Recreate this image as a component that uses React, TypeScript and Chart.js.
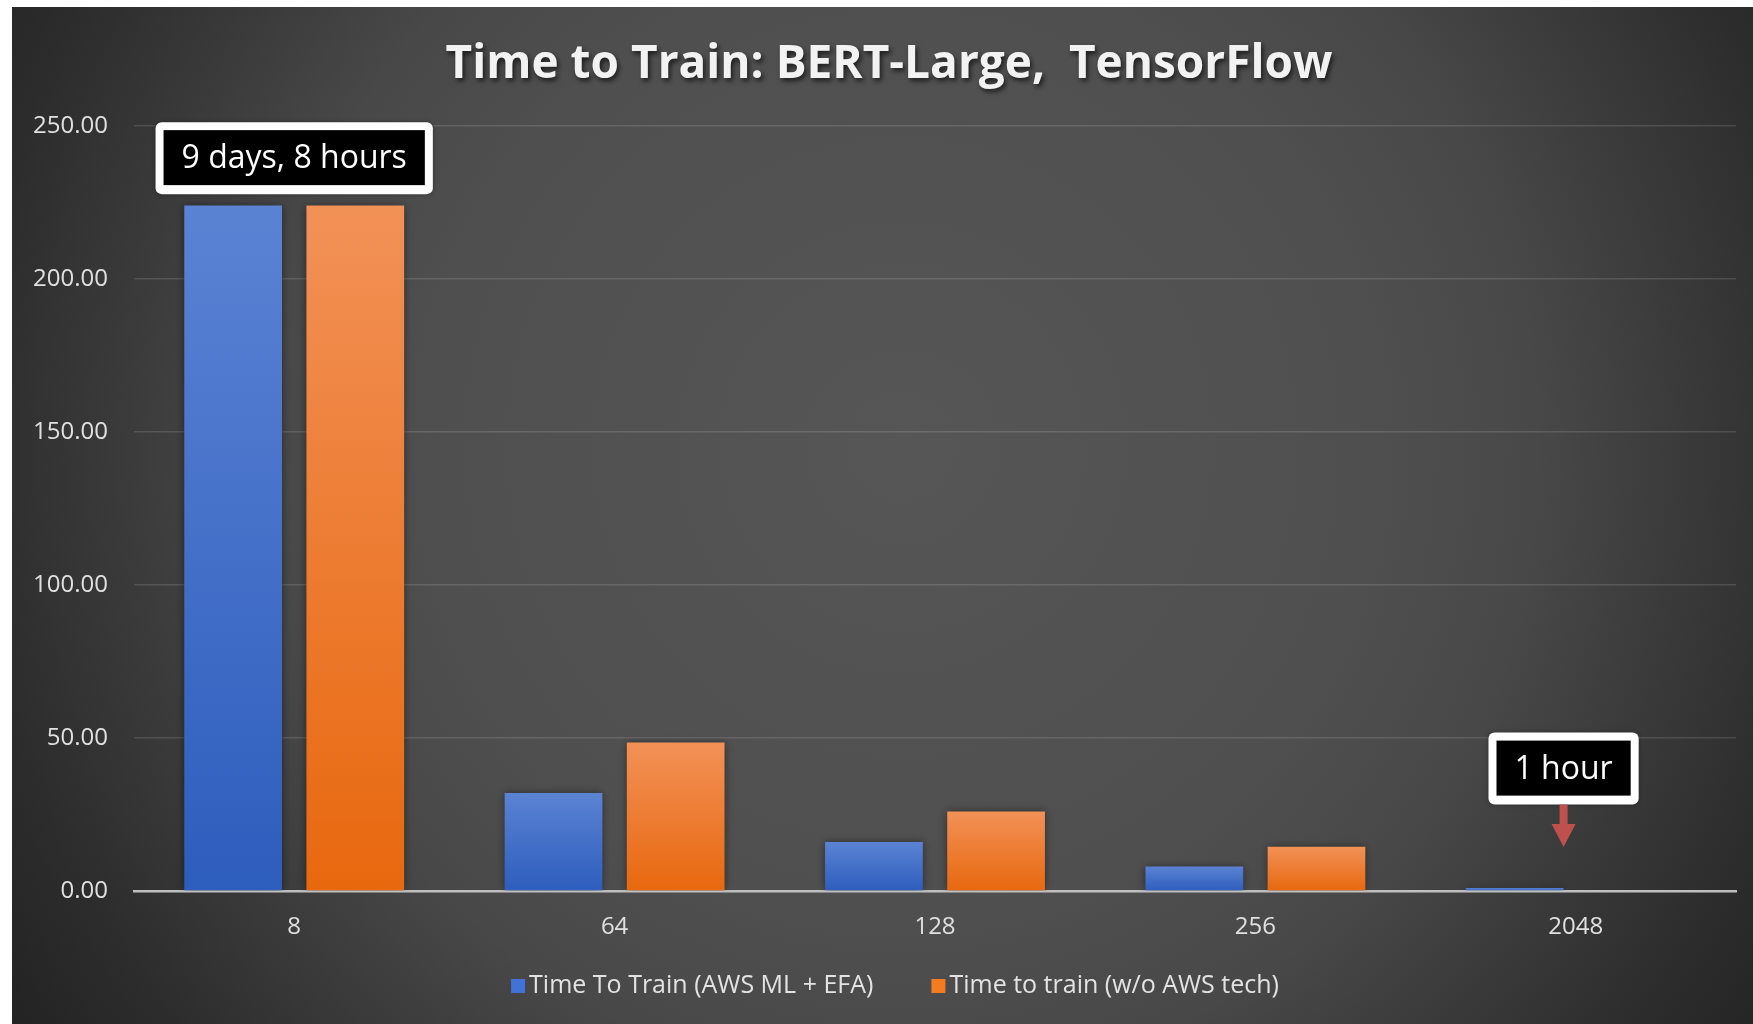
import React, { useEffect, useRef } from "react";
import { Chart, registerables } from "chart.js";

Chart.register(...registerables);

// ---- data ----
const categories = ["8", "64", "128", "256", "2048"];
const awsEfaHours = [224, 32, 16, 8, 1];
const withoutAwsHours: (number | null)[] = [224, 48.5, 26, 14.5, null];
const yTickValues = [0, 50, 100, 150, 200, 250];
const seriesLabels = ["Time To Train (AWS ML + EFA)", "Time to train (w/o AWS tech)"];
const titleText = "Time to Train: BERT-Large,  TensorFlow";

// callouts
const calloutTexts = ["9 days, 8 hours", "1 hour"];
const calloutCategoryIndex = [0, 4];
const calloutAnchor = ["category", "barRightEdge"];
const calloutCenterValue = [239.5, 40];
const calloutArrowTipValue: (number | null)[] = [null, 14.4];

const FONT = "'Open Sans', 'DejaVu Sans', sans-serif";
const CANVAS_W = 1741;
const CANVAS_H = 1017;

const seriesColors = [
  { top: "#5b83d4", bottom: "#2d5dbd", legend: "#4072d8" },
  { top: "#f29157", bottom: "#e8680e", legend: "#f47b20" },
];

function barGradient(seriesIdx: number) {
  return (ctx: any) => {
    const chart = ctx.chart;
    const c = seriesColors[seriesIdx];
    if (!chart.chartArea || ctx.type !== "data" || ctx.raw == null) return c.legend;
    const y = chart.scales.y;
    const top = y.getPixelForValue(ctx.raw);
    const base = y.getPixelForValue(0);
    if (base - top < 2) return c.bottom;
    const g = chart.ctx.createLinearGradient(0, top, 0, base);
    g.addColorStop(0, c.top);
    g.addColorStop(1, c.bottom);
    return g;
  };
}

const backgroundPlugin = {
  id: "panelBackground",
  beforeDraw(chart: any) {
    const { ctx, width, height } = chart;
    ctx.save();
    const g = ctx.createRadialGradient(890, 440, 0, 890, 440, 1060);
    g.addColorStop(0, "#565656");
    g.addColorStop(0.45, "#4f4f4f");
    g.addColorStop(0.6, "#484848");
    g.addColorStop(0.78, "#363636");
    g.addColorStop(0.87, "#2d2d2d");
    g.addColorStop(1, "#232323");
    ctx.fillStyle = g;
    ctx.fillRect(0, 0, width, height);

    // title with shadow
    ctx.font = `bold 46px ${FONT}`;
    ctx.textAlign = "center";
    ctx.textBaseline = "middle";
    ctx.shadowColor = "rgba(0,0,0,0.65)";
    ctx.shadowBlur = 5;
    ctx.shadowOffsetX = 2;
    ctx.shadowOffsetY = 3;
    ctx.fillStyle = "#f2f2f2";
    ctx.fillText(titleText, 877, 58);
    ctx.restore();
  },
  beforeDatasetsDraw(chart: any) {
    const ctx = chart.ctx;
    ctx.save();
    ctx.shadowColor = "rgba(0,0,0,0.45)";
    ctx.shadowBlur = 8;
    ctx.shadowOffsetX = 0;
    ctx.shadowOffsetY = 0;
  },
  afterDatasetsDraw(chart: any) {
    chart.ctx.restore();
  },
};

const calloutPlugin = {
  id: "callouts",
  afterDraw(chart: any) {
    const { ctx } = chart;
    const xScale = chart.scales.x;
    const yScale = chart.scales.y;
    const meta = chart.getDatasetMeta(0);
    ctx.save();
    ctx.font = `32px ${FONT}`;
    calloutTexts.forEach((text, i) => {
      const idx = calloutCategoryIndex[i];
      let cx = xScale.getPixelForValue(idx);
      if (calloutAnchor[i] === "barRightEdge") {
        const el = meta.data[idx];
        cx = el.x + el.width / 2;
      }
      const cy = yScale.getPixelForValue(calloutCenterValue[i]);
      const tw = ctx.measureText(text).width;
      const border = 8;
      const w = tw + 2 * (border + 18);
      const h = 72;
      const x0 = cx - w / 2;
      const y0 = cy - h / 2;
      ctx.shadowColor = "rgba(0,0,0,0.35)";
      ctx.shadowBlur = 4;
      ctx.fillStyle = "#ffffff";
      ctx.beginPath();
      ctx.roundRect(x0, y0, w, h, 6);
      ctx.fill();
      ctx.shadowColor = "transparent";
      ctx.shadowBlur = 0;
      ctx.fillStyle = "#000000";
      ctx.fillRect(x0 + border, y0 + border, w - 2 * border, h - 2 * border - 1);
      ctx.fillStyle = "#ffffff";
      ctx.textAlign = "center";
      ctx.textBaseline = "middle";
      ctx.fillText(text, cx, cy + 1);
      const tipV = calloutArrowTipValue[i];
      if (tipV != null) {
        const tipY = yScale.getPixelForValue(tipV);
        const startY = y0 + h;
        const headLen = 23;
        const shaft = 8;
        const head = 24;
        ctx.fillStyle = "#c0504d";
        ctx.fillRect(cx - shaft / 2, startY, shaft, tipY - headLen - startY + 1);
        ctx.beginPath();
        ctx.moveTo(cx - head / 2, tipY - headLen);
        ctx.lineTo(cx + head / 2, tipY - headLen);
        ctx.lineTo(cx, tipY);
        ctx.closePath();
        ctx.fill();
      }
    });
    ctx.restore();

    // legend
    ctx.save();
    ctx.font = `25px ${FONT}`;
    ctx.textBaseline = "middle";
    ctx.textAlign = "left";
    const box = 14;
    const gap = 4;
    const itemGap = 58;
    const widths = chart.data.datasets.map((d: any) => box + gap + ctx.measureText(d.label).width);
    const total = widths.reduce((a: number, b: number) => a + b, 0) + itemGap * (widths.length - 1);
    let x = 883 - total / 2;
    const ly = 979;
    chart.data.datasets.forEach((d: any, i: number) => {
      ctx.fillStyle = seriesColors[i].legend;
      ctx.fillRect(x, ly - box / 2, box, box);
      ctx.fillStyle = "#e3e3e3";
      ctx.fillText(d.label, x + box + gap, ly);
      x += widths[i] + itemGap;
    });
    ctx.restore();
  },
};

export default function App() {
  const canvasRef = useRef<HTMLCanvasElement | null>(null);

  useEffect(() => {
    document.body.style.margin = "0";
    const canvas = canvasRef.current;
    if (!canvas) return;
    const chart = new Chart(canvas, {
      type: "bar",
      data: {
        labels: categories,
        datasets: [
          {
            label: seriesLabels[0],
            data: awsEfaHours,
            backgroundColor: barGradient(0),
            borderWidth: 0,
            categoryPercentage: 0.7625,
            barPercentage: 0.8,
          },
          {
            label: seriesLabels[1],
            data: withoutAwsHours,
            backgroundColor: barGradient(1),
            borderWidth: 0,
            categoryPercentage: 0.7625,
            barPercentage: 0.8,
          },
        ],
      },
      options: {
        responsive: false,
        animation: false,
        devicePixelRatio: 1,
        layout: { padding: { top: 119, left: 0, right: 17, bottom: 73 } },
        plugins: {
          legend: { display: false },
          title: { display: false },
          tooltip: { enabled: false },
        },
        scales: {
          x: {
            z: 1,
            grid: { display: false, drawTicks: false },
            border: { display: true, color: "#bfbfbf", width: 2.5 },
            ticks: {
              color: "#e0e0e0",
              font: { family: FONT, size: 24 },
              padding: 22,
            },
            afterFit: (s: any) => {
              s.height = 60;
            },
          },
          y: {
            min: 0,
            max: 250,
            afterBuildTicks: (s: any) => {
              s.ticks = yTickValues.map((v) => ({ value: v }));
            },
            border: { display: false },
            grid: {
              drawTicks: false,
              color: (c: any) => (c.tick && c.tick.value === 0 ? "rgba(0,0,0,0)" : "rgba(255,255,255,0.13)"),
              lineWidth: 1.5,
            },
            ticks: {
              color: "#e0e0e0",
              font: { family: FONT, size: 24 },
              padding: 26,
              callback: (v: any) => Number(v).toFixed(2),
            },
            afterFit: (s: any) => {
              s.width = 122;
            },
          },
        },
      },
      plugins: [backgroundPlugin, calloutPlugin],
    });
    return () => chart.destroy();
  }, []);

  return (
    <div style={{ position: "relative", width: 1753, height: 1024, background: "#ffffff", overflow: "hidden" }}>
      <canvas
        ref={canvasRef}
        width={CANVAS_W}
        height={CANVAS_H}
        style={{ position: "absolute", left: 12, top: 7, width: CANVAS_W, height: CANVAS_H }}
      />
    </div>
  );
}
